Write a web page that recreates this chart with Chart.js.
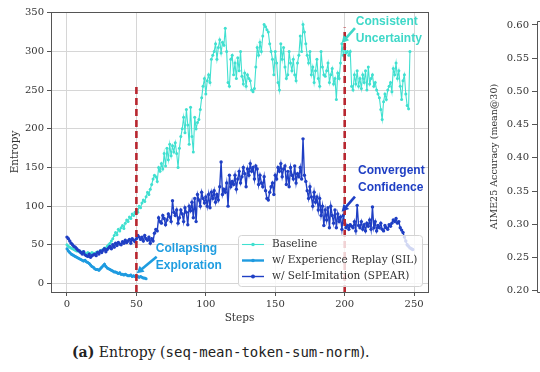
<!DOCTYPE html>
<html>
<head>
<meta charset="utf-8">
<script src="https://cdn.jsdelivr.net/npm/chart.js@4.4.1/dist/chart.umd.min.js"></script>
<style>
  html, body { margin: 0; padding: 0; background: #fff; }
  body { width: 540px; height: 372px; position: relative; overflow: hidden; }
  #main { position: absolute; left: 0; top: 0; }
  #acc { position: absolute; left: 440px; top: 0; }
  #caption { position: absolute; left: 72px; top: 344px; font: 14px 'DejaVu Serif'; line-height: 16px; color: #222; white-space: nowrap; }
  #caption b { font-weight: bold; }
  #caption span { font: 14px 'DejaVu Sans Mono'; }
</style>
</head>
<body>
<canvas id="main" width="440" height="330"></canvas>
<canvas id="acc" width="100" height="330"></canvas>
<div id="caption"><b>(a)</b> Entropy (<span>seq-mean-token-sum-norm</span>).</div>
<script>
// entropy per step (step = index)
const baseline = [
  50, 48, 47, 46, 45, 44, 43, 42, 42, 41,
  40, 41, 40, 39, 38, 40, 39, 38, 40, 39,
  38, 40, 41, 40, 42, 43, 44, 46, 45, 48,
  50, 52, 55, 58, 62, 66, 63, 70, 68, 72,
  75, 71, 78, 82, 80, 86, 84, 90, 88, 92,
  95, 92, 100, 98, 104, 108, 106, 112, 118, 115,
  122, 128, 135, 140, 138, 132, 150, 145, 155, 148,
  168, 152, 175, 160, 180, 165, 178, 170, 182, 168,
  150, 175, 190, 200, 215, 195, 225, 205, 180, 228,
  190, 170, 215, 200, 208, 212, 225, 240, 255, 265,
  245, 262, 270, 260, 290, 295, 300, 310, 290, 305,
  315, 298, 312, 308, 330, 300, 260, 255, 290, 295,
  270, 285, 265, 292, 275, 300, 268, 258, 272, 255,
  270, 265, 262, 250, 248, 252, 280, 305, 295, 312,
  300, 320, 335, 332, 328, 325, 310, 300, 290, 270,
  300, 285, 260, 250, 310, 290, 305, 280, 265, 270,
  300, 285, 275, 290, 270, 262, 285, 295, 320, 300,
  335, 325, 310, 295, 285, 300, 270, 280, 260, 275,
  290, 265, 255, 300, 280, 270, 268, 275, 285, 260,
  270, 278, 258, 265, 238, 272, 265, 285, 310, 295,
  305, 298, 300, 295, 300, 255, 250, 270, 258, 275,
  255, 265, 252, 270, 260, 275, 250, 280, 258, 265,
  270, 255, 260, 250, 245, 240, 225, 212, 235, 245,
  238, 250, 255, 260, 248, 278, 270, 285, 265, 275,
  255, 238, 262, 270, 245, 230, 226, 300
];
const sil = [
  45, 42, 40, 38, 37, 36, 35, 34, 33, 32,
  31, 30, 29, 30, 28, 27, 26, 24, 22, 21,
  19, 18, 18, 17, 19, 21, 23, 25, 22, 20,
  19, 18, 17, 16, 15, 15, 14, 13, 14, 12,
  12, 11, 12, 11, 10, 10, 11, 9, 10, 9,
  9, 9, 8, 9, 8, 7, 7, 6
];
const spear = [
  60, 58, 55, 52, 50, 48, 47, 45, 43, 42,
  40, 38, 41, 37, 36, 35, 38, 34, 36, 37,
  38, 36, 40, 38, 42, 40, 43, 45, 41, 44,
  46, 48, 45, 50, 47, 52, 49, 53, 51, 50,
  54, 52, 56, 53, 55, 57, 52, 58, 56, 54,
  58, 62, 60, 57, 60, 55, 62, 58, 56, 60,
  52, 58, 55, 65, 70, 68, 85, 80, 78, 88,
  84, 76, 82, 90, 86, 80, 107, 92, 88, 95,
  78, 85, 95, 90, 80, 98, 92, 76, 100, 94,
  105, 85, 110, 80, 115, 108, 100, 118, 110, 104,
  112, 100, 115, 98, 118, 110, 120, 105, 115, 108,
  125, 157, 115, 122, 118, 130, 100, 140, 125, 132,
  128, 140, 122, 135, 145, 130, 138, 150, 142, 125,
  148, 140, 155, 145, 150, 135, 152, 148, 128, 140,
  130, 125, 138, 120, 110, 108, 118, 125, 130, 115,
  140, 135, 150, 145, 155, 138, 148, 152, 128, 145,
  125, 150, 140, 135, 152, 130, 142, 138, 150, 135,
  187, 140, 132, 120, 110, 125, 112, 100, 118, 105,
  112, 95, 110, 88, 100, 75, 95, 82, 98, 72,
  100, 88, 78, 95, 72, 90, 80, 86, 70, 88,
  78, 72, 75, 70, 76, 74, 72, 80, 68, 101,
  75, 72, 80, 70, 76, 68, 78, 74, 82, 70,
  99, 72, 80, 68, 75, 72, 78, 70, 68, 75,
  72, 70, 76, 74, 78, 82, 80, 84, 78, 80,
  72, 69, 66, 60, 55, 50, 48, 46, 45, 44
];
// dashed phase markers: [step, bottom, top]
const markerLines = [[50, -11, 258], [200, -11, 331]];

const stepTicks = [0, 50, 100, 150, 200, 250];
const entropyTicks = [0, 50, 100, 150, 200, 250, 300, 350];
const accTicks = [0.20, 0.25, 0.30, 0.35, 0.40, 0.45, 0.50, 0.55, 0.60];

// callouts: text lines, text anchor (step, entropy), arrow from -> to
const callouts = [
  { lines: ['Consistent', 'Uncertainty'], color: '#3fd8c8', at: [208, 338.5], gap: 21.5, from: [207.4, 330], to: [197.8, 311] },
  { lines: ['Collapsing', 'Exploration'], color: '#1f9de0', at: [64, 44.6], gap: 22, from: [64.6, 34.6], to: [50.2, 13.2] },
  { lines: ['Convergent', 'Confidence'], color: '#1f3fc4', at: [209.6, 145.8], gap: 22, from: [207.4, 112.2], to: [197.8, 92.8] }
];

const toPts = arr => arr.map((v, i) => ({ x: i, y: v }));

function drawArrow(ctx, x1, y1, x2, y2, color) {
  const a = Math.atan2(y2 - y1, x2 - x1);
  const head = 8;
  ctx.strokeStyle = color;
  ctx.fillStyle = color;
  ctx.lineWidth = 2.6;
  ctx.beginPath();
  ctx.moveTo(x1, y1);
  ctx.lineTo(x2 - head * 0.7 * Math.cos(a), y2 - head * 0.7 * Math.sin(a));
  ctx.stroke();
  ctx.beginPath();
  ctx.moveTo(x2, y2);
  ctx.lineTo(x2 - head * Math.cos(a - 0.5), y2 - head * Math.sin(a - 0.5));
  ctx.lineTo(x2 - head * Math.cos(a + 0.5), y2 - head * Math.sin(a + 0.5));
  ctx.closePath();
  ctx.fill();
}

const extras = {
  id: 'extras',
  afterDatasetsDraw(chart) {
    const { ctx, chartArea: ca, scales: { x, y } } = chart;
    ctx.save();
    // callouts
    callouts.forEach(c => {
      ctx.font = 'bold 12px "Liberation Sans"';
      ctx.fillStyle = c.color;
      ctx.textAlign = 'left';
      ctx.textBaseline = 'middle';
      c.lines.forEach((t, k) => {
        ctx.fillText(t, x.getPixelForValue(c.at[0]), y.getPixelForValue(c.at[1] - k * c.gap));
      });
      drawArrow(ctx, x.getPixelForValue(c.from[0]), y.getPixelForValue(c.from[1]),
        x.getPixelForValue(c.to[0]), y.getPixelForValue(c.to[1]), c.color);
    });
    // legend box, lower right
    const items = chart.data.datasets.filter(d => d.inLegend);
    const w = 184, h = 51;
    const lx = ca.right - 6 - w, ly = ca.bottom - 6 - h;
    ctx.beginPath();
    ctx.roundRect(lx + 0.5, ly + 0.5, w, h, 3);
    ctx.fillStyle = 'rgba(255,255,255,0.8)';
    ctx.fill();
    ctx.strokeStyle = '#d4d4d4';
    ctx.lineWidth = 1;
    ctx.stroke();
    ctx.font = '10.5px "DejaVu Serif"';
    ctx.textBaseline = 'middle';
    items.forEach((d, k) => {
      const ry = ly + 9.5 + k * 16;
      ctx.strokeStyle = d.borderColor;
      ctx.lineWidth = d.borderWidth;
      ctx.beginPath();
      ctx.moveTo(lx + 4, ry);
      ctx.lineTo(lx + 26, ry);
      ctx.stroke();
      ctx.fillStyle = d.borderColor;
      ctx.beginPath();
      ctx.arc(lx + 15, ry, d.pointRadius + 0.3, 0, Math.PI * 2);
      ctx.fill();
      ctx.fillStyle = '#333';
      ctx.fillText(d.label, lx + 34, ry);
    });
    // frame
    ctx.strokeStyle = '#555';
    ctx.lineWidth = 1;
    ctx.strokeRect(Math.round(ca.left) + 0.5, Math.round(ca.top) + 0.5,
      Math.round(ca.right - ca.left), Math.round(ca.bottom - ca.top));
    ctx.restore();
  }
};

const tickFont = { family: 'DejaVu Serif', size: 10 };
const titleFont = { family: 'DejaVu Serif', size: 10.5 };

new Chart(document.getElementById('main'), {
  type: 'line',
  data: {
    datasets: [
      { label: 'Baseline', data: toPts(baseline), borderColor: '#40e0d0', backgroundColor: '#40e0d0',
        borderWidth: 1.1, pointRadius: 1.5, pointBorderWidth: 0, order: 3, inLegend: true },
      { label: 'w/ Experience Replay (SIL)', data: toPts(sil), borderColor: '#1f9be0', backgroundColor: '#1f9be0',
        borderWidth: 2.4, pointRadius: 1.5, pointBorderWidth: 0, order: 2, inLegend: true },
      { label: 'w/ Self-Imitation (SPEAR)', data: toPts(spear), borderColor: '#1f3fc4', backgroundColor: '#1f3fc4',
        borderWidth: 1.4, pointRadius: 1.7, pointBorderWidth: 0, order: 1, inLegend: true },
      ...markerLines.map(m => ({
        label: 'phase', data: [{ x: m[0], y: m[1] }, { x: m[0], y: m[2] }],
        borderColor: '#b8262f', borderWidth: 2.6, borderDash: [7, 4], pointRadius: 0, order: 0
      }))
    ]
  },
  options: {
    responsive: false,
    animation: false,
    layout: { padding: { left: 0, top: 12, right: 12, bottom: 0 } },
    plugins: { legend: { display: false }, tooltip: { enabled: false } },
    scales: {
      x: {
        type: 'linear', min: -11.5, max: 260,
        afterBuildTicks: s => { s.ticks = stepTicks.map(v => ({ value: v })); },
        afterFit: s => { s.height = 38; },
        ticks: { font: tickFont, color: '#333', padding: 2, maxRotation: 0 },
        grid: { color: '#d6d6d6', tickColor: '#555', tickLength: 4 },
        border: { display: false },
        title: { display: true, text: 'Steps', font: titleFont, color: '#333', padding: { top: 0, bottom: 5.7 } }
      },
      y: {
        min: -11, max: 351,
        afterBuildTicks: s => { s.ticks = entropyTicks.map(v => ({ value: v })); },
        afterFit: s => { s.width = 51; },
        ticks: { font: tickFont, color: '#333', padding: 3 },
        grid: { color: '#d6d6d6', tickColor: '#555', tickLength: 4 },
        border: { display: false },
        title: { display: true, text: 'Entropy', font: titleFont, color: '#333', padding: { top: 8.7, bottom: 0 } }
      }
    }
  },
  plugins: [extras]
});

// neighbouring panel, only its axis is in view
const accFrame = {
  id: 'accFrame',
  afterDraw(chart) {
    const { ctx, chartArea: ca } = chart;
    ctx.save();
    ctx.strokeStyle = '#555';
    ctx.lineWidth = 1;
    const l = Math.round(ca.left) + 0.5, t = Math.round(ca.top) + 0.5, b = Math.round(ca.bottom) + 0.5;
    ctx.beginPath();
    ctx.moveTo(chart.width, t); ctx.lineTo(l, t); ctx.lineTo(l, b); ctx.lineTo(chart.width, b);
    ctx.stroke();
    ctx.restore();
  }
};

new Chart(document.getElementById('acc'), {
  type: 'line',
  data: { datasets: [] },
  options: {
    responsive: false,
    animation: false,
    layout: { padding: { left: 49, top: 21, right: 0, bottom: 38 } },
    plugins: { legend: { display: false }, tooltip: { enabled: false } },
    scales: {
      x: { type: 'linear', display: false, min: 0, max: 1 },
      y: {
        min: 0.198, max: 0.606,
        afterBuildTicks: s => { s.ticks = accTicks.map(v => ({ value: v })); },
        afterFit: s => { s.width = 48; },
        ticks: { font: tickFont, color: '#333', padding: 3, callback: v => v.toFixed(2) },
        grid: { drawOnChartArea: false, tickColor: '#555', tickLength: 5 },
        border: { display: false },
        title: { display: true, text: 'AIME25 Accuracy (mean@30)', font: { family: 'DejaVu Serif', size: 9.5 }, color: '#333', padding: { top: 0, bottom: 0 } }
      }
    }
  },
  plugins: [accFrame]
});
</script>
</body>
</html>
